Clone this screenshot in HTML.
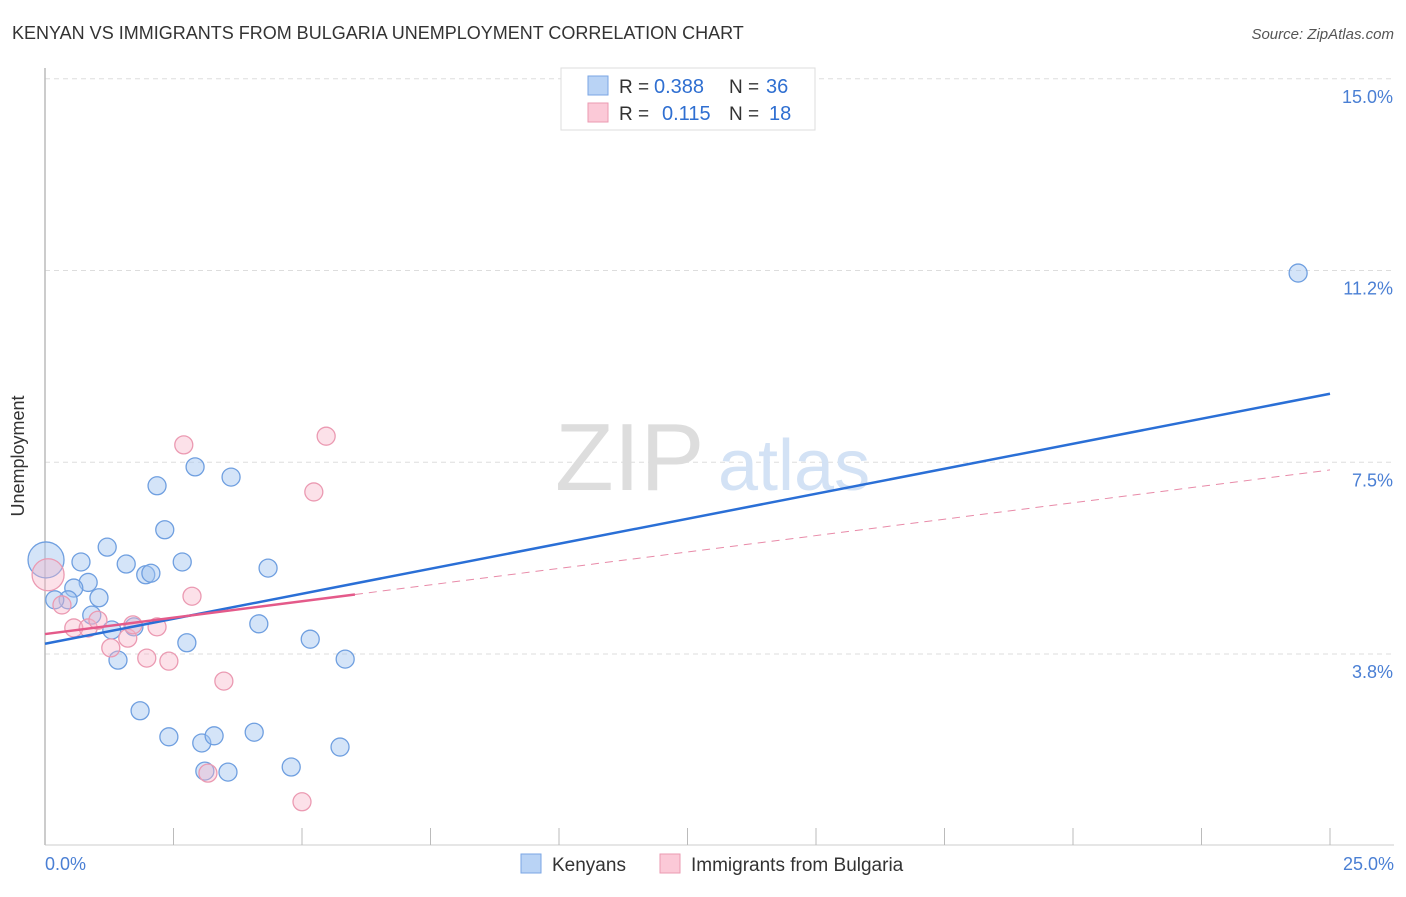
<!DOCTYPE html>
<html><head><meta charset="utf-8"><style>
body{margin:0;background:#fff;font-family:"Liberation Sans",sans-serif;}
svg text{font-family:"Liberation Sans",sans-serif;}
</style></head><body>
<svg width="1406" height="892" xmlns="http://www.w3.org/2000/svg" id="chart">
<text x="12" y="39" font-size="18" fill="#333">KENYAN VS IMMIGRANTS FROM BULGARIA UNEMPLOYMENT CORRELATION CHART</text>
<text x="1394" y="39" font-size="15" fill="#555" font-style="italic" text-anchor="end">Source: ZipAtlas.com</text>
<g id="grid"></g>
<text x="555" y="490" font-size="96" fill="#ddd" font-family="Liberation Serif">ZIP</text>
<text x="718" y="490" font-size="72" fill="#d3e2f5">atlas</text>
<line x1="45" y1="68" x2="45" y2="845" stroke="#bbb" stroke-width="1.5"/>
<line x1="45" y1="845" x2="1394" y2="845" stroke="#ccc"/>
<g id="ticks"></g>
<g id="pts"></g>
<g id="trends"></g>
<text x="24" y="456" font-size="18" fill="#333" transform="rotate(-90 24 456)" text-anchor="middle">Unemployment</text>
<text x="45" y="870" font-size="18" fill="#4a7fd4">0.0%</text>
<text x="1394" y="870" font-size="18" fill="#4a7fd4" text-anchor="end">25.0%</text>
<g>
<rect x="561" y="68" width="254" height="62" fill="#fff" stroke="#ddd"/>
<rect x="588" y="76" width="20" height="19" fill="#b9d3f5" stroke="#7aa6e4"/>
<rect x="588" y="103" width="20" height="19" fill="#fbc9d7" stroke="#eb9ab2"/>
<text x="619" y="93" font-size="19" fill="#333">R =</text>
<text x="654" y="93" font-size="20" fill="#2f6fd1">0.388</text>
<text x="729" y="93" font-size="19" fill="#333">N =</text>
<text x="766" y="93" font-size="20" fill="#2f6fd1">36</text>
<text x="619" y="120" font-size="19" fill="#333">R =</text>
<text x="662" y="120" font-size="20" fill="#2f6fd1">0.115</text>
<text x="729" y="120" font-size="19" fill="#333">N =</text>
<text x="769" y="120" font-size="20" fill="#2f6fd1">18</text>
</g>
<g>
<rect x="521" y="854" width="20" height="19" fill="#b9d3f5" stroke="#7aa6e4"/>
<text x="552" y="871" font-size="19" fill="#333">Kenyans</text>
<rect x="660" y="854" width="20" height="19" fill="#fbc9d7" stroke="#eb9ab2"/>
<text x="691" y="871" font-size="19" fill="#333">Immigrants from Bulgaria</text>
</g>
</svg>
<script>
const yTicks=[3.8,7.5,11.2,15.0];
const yTickVals=[3.75,7.5,11.25,15.0];
const xTickVals=[0,2.5,5,7.5,10,12.5,15,17.5,20,22.5,25];
const blueX=[0.02,0.70,1.21,1.58,0.84,0.56,1.05,0.45,0.19,0.91,1.30,1.42,1.96,2.06,2.18,2.33,2.67,2.92,3.62,4.34,2.76,1.73,4.16,5.16,5.84,1.85,2.41,3.05,3.29,4.07,3.11,3.56,4.79,5.74,24.38];
const blueY=[5.59,5.55,5.84,5.51,5.15,5.04,4.85,4.81,4.81,4.51,4.22,3.63,5.30,5.33,7.04,6.18,5.55,7.41,7.21,5.43,3.97,4.28,4.34,4.04,3.65,2.64,2.13,2.01,2.15,2.22,1.46,1.44,1.54,1.93,11.20];
const pinkX=[2.70,5.47,5.23,2.86,0.06,0.33,0.56,0.84,1.03,1.28,1.61,1.71,1.98,2.18,2.41,3.48,3.17,5.00];
const pinkY=[7.84,8.01,6.92,4.88,5.30,4.71,4.26,4.26,4.41,3.87,4.06,4.32,3.67,4.28,3.61,3.22,1.42,0.86];
const blueTrend=[3.95,8.84];
const pinkTrend=[4.14,7.35];
const pinkSolidEnd=6.03;
const NS='http://www.w3.org/2000/svg';
const sx=v=>45+v/25*1285;
const sy=v=>654-(v-3.75)*51.13;
function mk(t,a,p){const e=document.createElementNS(NS,t);for(const k in a)e.setAttribute(k,a[k]);p.appendChild(e);return e;}
const grid=document.getElementById('grid');
yTickVals.forEach((v,i)=>{
 const l=mk('line',{x1:45,x2:1394,y1:sy(v),y2:sy(v),stroke:'#ddd','stroke-dasharray':'5,4'},grid);
 
 
 const t=mk('text',{x:1393,y:sy(v)+24,'font-size':18,fill:'#4a7fd4','text-anchor':'end'},grid);
 t.textContent=yTicks[i].toFixed(1)+'%';
 
 
});
const ticks=document.getElementById('ticks');
xTickVals.forEach(v=>{
 const l=mk('line',{x1:sx(v),x2:sx(v),y1:828,y2:845,stroke:'#bbb'},ticks);
 
 
});
const pts=document.getElementById('pts');
blueX.forEach((x,i)=>{
 const c=mk('circle',{cx:sx(x),cy:sy(blueY[i]),r:i===0?18:9,fill:'rgba(160,195,240,0.45)',stroke:'#6f9fe0','stroke-width':1.3},pts);
 
 
});
pinkX.forEach((x,i)=>{
 const c=mk('circle',{cx:sx(x),cy:sy(pinkY[i]),r:i===4?16:9,fill:'rgba(248,180,200,0.4)',stroke:'#eb9ab2','stroke-width':1.3},pts);
 
 
});
const tr=document.getElementById('trends');
const pv=x=>pinkTrend[0]+(pinkTrend[1]-pinkTrend[0])*x/25;
let l=mk('line',{x1:sx(pinkSolidEnd),y1:sy(pv(pinkSolidEnd)),x2:sx(25),y2:sy(pinkTrend[1]),stroke:'#e88aa8','stroke-width':1,'stroke-dasharray':'8,6'},tr);


l=mk('line',{x1:sx(0),y1:sy(blueTrend[0]),x2:sx(25),y2:sy(blueTrend[1]),stroke:'#2a6fd6','stroke-width':2.5},tr);


l=mk('line',{x1:sx(0),y1:sy(pinkTrend[0]),x2:sx(pinkSolidEnd),y2:sy(pv(pinkSolidEnd)),stroke:'#e45a8a','stroke-width':2.5},tr);


</script>
</body></html>
